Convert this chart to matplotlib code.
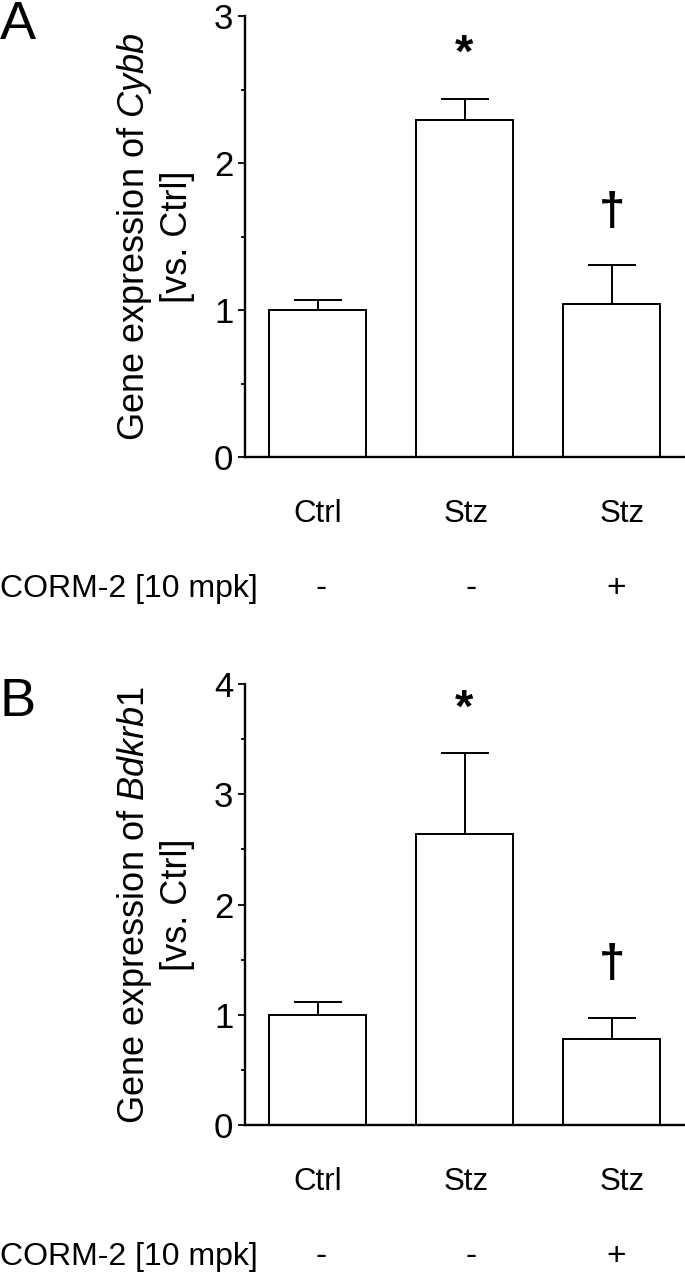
import matplotlib
matplotlib.use("Agg")
import matplotlib.pyplot as plt
from matplotlib.ticker import MultipleLocator
from matplotlib.transforms import blended_transform_factory

plt.rcParams['font.family'] = ['Liberation Sans', 'DejaVu Sans']
plt.rcParams['mathtext.fontset'] = 'custom'
plt.rcParams['mathtext.rm'] = 'Liberation Sans'
plt.rcParams['mathtext.it'] = 'Liberation Sans:italic'

# ---------------- data ----------------
groups = ["Ctrl", "Stz", "Stz"]
corm = ["-", "-", "+"]
cybb_mean = [1.00, 2.29, 1.04]
cybb_sem = [0.07, 0.145, 0.265]
cybb_marks = ["", "*", "\u2020"]
bdk_mean = [1.00, 2.64, 0.78]
bdk_sem = [0.12, 0.73, 0.195]
bdk_marks = ["", "*", "\u2020"]
panel_letters = ["A", "B"]
genes = ["Cybb", "Bdkrb1"]
ymax = [3, 4]

# ---------------- layout ----------------
W, H = 685, 1272
fig = plt.figure(figsize=(W / 100, H / 100), dpi=100)
ax_left = 244.6
panels = [
    dict(top=16, bottom=457),
    dict(top=684, bottom=1125),
]
label_dx = [0.0, 0.01, 0.07]
sign_dx = [0.025, 0.045, 0.03]

for k, (means, sems, marks) in enumerate([(cybb_mean, cybb_sem, cybb_marks),
                                           (bdk_mean, bdk_sem, bdk_marks)]):
    p = panels[k]
    ax = fig.add_axes([ax_left / W, 1 - p['bottom'] / H,
                       (W - ax_left) / W, (p['bottom'] - p['top']) / H])
    x = list(range(len(means)))
    ax.bar(x, means, width=0.66, color='white', edgecolor='black',
           linewidth=1.4, zorder=2)
    ax.errorbar(x, means, yerr=[[0] * len(sems), sems], fmt='none',
                ecolor='black', elinewidth=1.4, capsize=17, capthick=1.4,
                zorder=3)
    ax.set_xlim(-0.496, 2.5)
    ax.set_ylim(0, ymax[k])
    ax.yaxis.set_major_locator(MultipleLocator(1))
    ax.yaxis.set_minor_locator(MultipleLocator(0.5))
    ax.tick_params(axis='y', which='major', length=5, width=1.3,
                   labelsize=25, pad=3)
    ax.tick_params(axis='y', which='minor', length=3, width=1.3)
    ax.set_xticks([])
    for s in ['top', 'right']:
        ax.spines[s].set_visible(False)
    for s in ['left', 'bottom']:
        ax.spines[s].set_linewidth(1.7)

    # significance marks
    for i, m in enumerate(marks):
        if not m:
            continue
        off = 23 if m == "*" else 29
        ax.annotate(m, xy=(i, means[i] + sems[i]), xytext=(0, off),
                    textcoords='offset points', ha='center', va='baseline',
                    fontsize=34, fontweight='bold')

    tr = blended_transform_factory(ax.transData, ax.transAxes)
    for i, g in enumerate(groups):
        ax.text(i + label_dx[i], -0.13, g, transform=tr, ha='center',
                va='center', fontsize=22.5)
        ax.text(i + sign_dx[i], -0.299, corm[i], transform=tr, ha='center',
                va='center', fontsize=24)

    ycen = (p['top'] + p['bottom']) / 2
    fig.text(155 / W, 1 - ycen / H,
             "Gene expression of $\\mathit{%s}$\n[vs. Ctrl]" % genes[k],
             rotation=90, ha='center', va='center', multialignment='center',
             fontsize=26)
    fig.text(0, 1 - (p['bottom'] + 132) / H, "CORM-2 [10 mpk]", ha='left',
             va='center', fontsize=23)

fig.text(0.0, 1.0, "A", ha='left', va='top', fontsize=39)
fig.text(0.0, 1 - 677 / H, "B", ha='left', va='top', fontsize=39)

fig.savefig("out.png", dpi=100, facecolor='white')
